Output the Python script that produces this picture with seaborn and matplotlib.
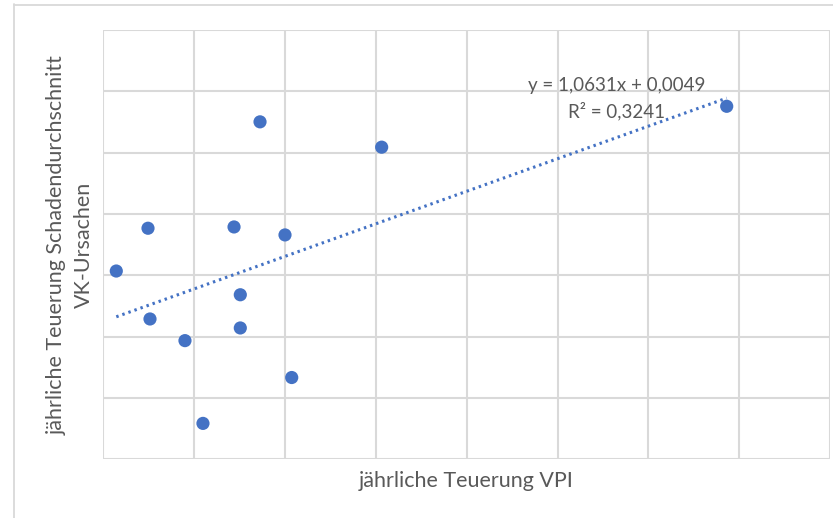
import numpy as np
import pandas as pd
import matplotlib
matplotlib.use("Agg")
import matplotlib.pyplot as plt
from matplotlib.lines import Line2D
import seaborn as sns

# Data
vpi = [0.00143, 0.00492, 0.00514, 0.00899, 0.01097, 0.01439, 0.01508,
       0.01508, 0.01725, 0.02000, 0.02074, 0.03064, 0.06862]
schaden = [0.02140, 0.03535, 0.00576, -0.00130, -0.02829, 0.03577, 0.01366,
           0.00283, 0.07005, 0.03317, -0.01333, 0.06179, 0.07512]
x_ticks = [0.00, 0.01, 0.02, 0.03, 0.04, 0.05, 0.06, 0.07, 0.08]
y_ticks = [-0.04, -0.02, 0.00, 0.02, 0.04, 0.06, 0.08, 0.10]
eq_text = "y = 1,0631x + 0,0049"
r2_text = "R² = 0,3241"
x_label = "jährliche Teuerung VPI"
y_label_lines = ["jährliche Teuerung Schadendurchschnitt", "VK-Ursachen"]

df = pd.DataFrame({"vpi": vpi, "schaden": schaden})

sns.set_style("white")
plt.rcParams["font.family"] = ["Lato", "DejaVu Sans"]

W, H = 833, 518
fig = plt.figure(figsize=(W / 100, H / 100), dpi=100)
ax = fig.add_axes([103.3 / W, 1 - 459.3 / H, 726.8 / W, 429.3 / H])

blue = "#4472C4"
grid = "#D9D9D9"
txt = "#595959"

sns.regplot(data=df, x="vpi", y="schaden", ax=ax, ci=None, truncate=True,
            scatter_kws=dict(s=90, color=blue, edgecolor="none", alpha=1, zorder=4),
            line_kws=dict(color=blue, linestyle=(0, (0.8, 1.3)), linewidth=2.2, zorder=3))

ax.set_xlim(x_ticks[0], x_ticks[-1])
ax.set_ylim(y_ticks[0], y_ticks[-1])
ax.set_xticks(x_ticks)
ax.set_yticks(y_ticks)
ax.set_xticklabels([])
ax.set_yticklabels([])
ax.tick_params(length=0)
ax.grid(True, color=grid, linewidth=1.5, zorder=0)
ax.set_axisbelow(True)
for s in ax.spines.values():
    s.set_visible(False)
ax.set_xlabel("")
ax.set_ylabel("")

# axis titles
fig.text(466 / W, 1 - 481 / H, x_label, ha="center", va="center",
         fontsize=15.5, color=txt)
fig.text(57 / W, 1 - 245 / H, y_label_lines[0], ha="center", va="center",
         rotation=90, fontsize=15.5, color=txt)
fig.text(84 / W, 1 - 245 / H, y_label_lines[1], ha="center", va="center",
         rotation=90, fontsize=15.5, color=txt)

# trendline label
fig.text(616.5 / W, 1 - 86 / H, eq_text, ha="center", va="center", fontsize=13.5, color=txt)
fig.text(616.5 / W, 1 - 111 / H, r2_text, ha="center", va="center", fontsize=13.5, color=txt)

# chart area frame (partially visible)
fig.add_artist(Line2D([13.5 / W, 13.5 / W], [1 - 4 / H, 0], transform=fig.transFigure,
                      color=grid, linewidth=1.3))
fig.add_artist(Line2D([13.5 / W, 1], [1 - 4.5 / H, 1 - 4.5 / H], transform=fig.transFigure,
                      color=grid, linewidth=1.3))

fig.savefig("out.png", dpi=100)
